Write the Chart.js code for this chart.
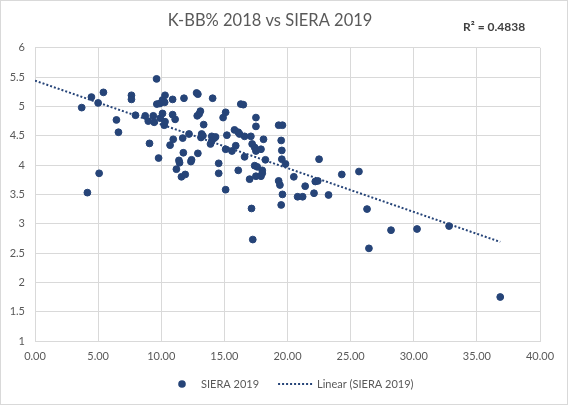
<!DOCTYPE html>
<html>
<head>
<meta charset="utf-8">
<script src="https://cdn.jsdelivr.net/npm/chart.js@4.4.1/dist/chart.umd.min.js"></script>
<style>
  html, body { margin: 0; padding: 0; background: #fff; }
  #wrap { width: 568px; height: 405px; }
</style>
</head>
<body>
<div id="wrap"><canvas id="chart" width="568" height="405"></canvas></div>
<script>
// K-BB% 2018 (x) against SIERA 2019 (y)
const kbb2018 = [
    3.7, 4.15, 4.47, 5.0, 5.08, 5.42, 6.45, 6.61, 7.64, 7.64,
    7.96, 8.73, 8.97, 9.07, 9.37, 9.44, 9.63, 9.65, 9.79, 9.89,
    9.92, 10.1, 10.1, 10.24, 10.27, 10.3, 10.3, 10.7, 10.9, 10.9,
    10.95, 11.1, 11.2, 11.4, 11.45, 11.6, 11.7, 11.75, 11.8, 11.9,
    12.2, 12.35, 12.4, 12.8, 12.85, 12.9, 12.9, 13.0, 13.1, 13.15,
    13.2, 13.3, 13.36, 13.9, 14.0, 14.0, 14.07, 14.2, 14.3, 14.55,
    14.55, 14.9, 15.1, 15.1, 15.1, 15.2, 15.6, 15.8, 15.9, 16.1,
    16.1, 16.2, 16.3, 16.5, 16.6, 16.6, 17.0, 17.1, 17.15, 17.2,
    17.25, 17.4, 17.4, 17.5, 17.5, 17.5, 17.5, 17.6, 17.9, 17.9,
    18.0, 18.0, 18.1, 18.25, 19.3, 19.3, 19.4, 19.5, 19.5, 19.55,
    19.55, 19.6, 19.6, 19.84, 20.5, 20.8, 21.2, 21.4, 22.1, 22.2,
    22.4, 22.5, 23.25, 24.3, 25.66, 26.3, 26.45, 28.2, 30.26, 32.8,
    36.85
];
const siera2019 = [
    4.98, 3.53, 5.16, 5.06, 3.86, 5.24, 4.77, 4.56, 5.19, 5.12,
    4.85, 4.84, 4.75, 4.37, 4.84, 4.73, 5.47, 5.04, 4.12, 5.05,
    4.80, 5.11, 4.88, 4.68, 5.07, 4.74, 5.19, 4.34, 5.12, 4.86,
    4.44, 4.78, 3.93, 4.08, 4.04, 3.80, 4.46, 4.21, 5.14, 3.84,
    4.53, 4.06, 4.09, 5.23, 4.84, 5.21, 4.20, 4.87, 4.92, 4.47,
    4.53, 4.50, 4.69, 4.36, 4.49, 4.41, 5.14, 4.46, 4.48, 4.03,
    3.86, 4.81, 4.90, 4.27, 3.58, 4.51, 4.24, 4.60, 4.33, 4.56,
    3.91, 4.53, 5.04, 5.03, 4.49, 4.14, 3.76, 4.49, 3.26, 4.36,
    2.73, 4.30, 3.99, 4.81, 4.66, 4.24, 3.81, 3.97, 4.27, 3.81,
    3.91, 3.86, 4.44, 4.09, 4.68, 3.73, 3.66, 4.42, 3.32, 4.25,
    4.10, 4.68, 3.50, 4.02, 3.80, 3.46, 3.46, 3.64, 3.52, 3.72,
    3.73, 4.10, 3.49, 3.84, 3.89, 3.25, 2.58, 2.89, 2.91, 2.96,
    1.75
];

// trendline ends as drawn in the picture
const trendX = [0, 36.85];
const trendY = [5.44, 2.69];

const xTicks = [0, 5, 10, 15, 20, 25, 30, 35, 40];
const yTicks = [1, 1.5, 2, 2.5, 3, 3.5, 4, 4.5, 5, 5.5, 6];

const seriesName = 'SIERA 2019';
const trendName = 'Linear (SIERA 2019)';
const rSquared = 'R² = 0.4838';

const navy = '#264478';
const textGrey = '#595959';
const gridGrey = '#d9d9d9';
const font = 'Lato, "Open Sans", sans-serif';

// frame, R² label and legend drawn after the chart
const extras = {
    id: 'extras',
    beforeDraw(chart) {
        const ctx = chart.ctx;
        ctx.save();
        ctx.fillStyle = '#fff';
        ctx.fillRect(0, 0, chart.width, chart.height);
        ctx.restore();
    },
    afterDraw(chart) {
        const ctx = chart.ctx;
        ctx.save();
        ctx.strokeStyle = gridGrey;
        ctx.lineWidth = 1;
        ctx.strokeRect(0.5, 0.5, chart.width - 1, chart.height - 1);

        ctx.fillStyle = '#404040';
        ctx.font = 'bold 12px ' + font;
        ctx.textBaseline = 'middle';
        ctx.fillText(rSquared, 463, 27);

        // legend
        const ly = 384;
        ctx.fillStyle = navy;
        ctx.beginPath();
        ctx.arc(182, ly, 3.8, 0, Math.PI * 2);
        ctx.fill();
        ctx.font = '11px ' + font;
        ctx.fillStyle = textGrey;
        ctx.fillText(seriesName, 201, ly);
        const x1 = 201 + ctx.measureText(seriesName).width + 19;
        ctx.strokeStyle = navy;
        ctx.lineWidth = 2;
        ctx.setLineDash([2, 2]);
        ctx.beginPath();
        ctx.moveTo(x1, ly);
        ctx.lineTo(x1 + 35, ly);
        ctx.stroke();
        ctx.setLineDash([]);
        ctx.fillText(trendName, x1 + 39, ly);
        ctx.restore();
    }
};

const ctx = document.getElementById('chart').getContext('2d');
new Chart(ctx, {
    type: 'scatter',
    data: {
        datasets: [
            {
                label: trendName,
                data: trendX.map((x, i) => ({ x, y: trendY[i] })),
                showLine: true,
                borderColor: navy,
                borderWidth: 2,
                borderDash: [2, 2],
                pointRadius: 0,
                order: 0
            },
            {
                label: seriesName,
                data: kbb2018.map((x, i) => ({ x, y: siera2019[i] })),
                backgroundColor: navy,
                borderColor: navy,
                borderWidth: 1,
                pointRadius: 3.4,
                order: 1
            }
        ]
    },
    options: {
        responsive: false,
        animation: false,
        layout: { padding: { left: 0, right: 28, top: 0, bottom: 40 } },
        plugins: {
            legend: { display: false },
            tooltip: { enabled: false },
            title: {
                display: true,
                text: 'K-BB% 2018 vs SIERA 2019',
                color: textGrey,
                font: { family: font, size: 16.5, weight: 'normal' },
                padding: { top: 11, bottom: 17 }
            }
        },
        scales: {
            x: {
                type: 'linear',
                min: 0,
                max: 40,
                afterBuildTicks: s => { s.ticks = xTicks.map(v => ({ value: v })); },
                afterFit: s => { s.height = 24; },
                grid: { color: gridGrey, drawTicks: false },
                border: { color: gridGrey },
                ticks: {
                    padding: 9,
                    color: textGrey,
                    font: { family: font, size: 11 },
                    callback: v => v.toFixed(2)
                }
            },
            y: {
                type: 'linear',
                min: 1,
                max: 6,
                afterBuildTicks: s => { s.ticks = yTicks.map(v => ({ value: v })); },
                afterFit: s => { s.width = 35; },
                grid: { color: gridGrey, drawTicks: false },
                border: { color: gridGrey },
                ticks: {
                    padding: 10,
                    color: textGrey,
                    font: { family: font, size: 11 },
                    callback: v => String(v)
                }
            }
        }
    },
    plugins: [extras]
});
</script>
</body>
</html>
